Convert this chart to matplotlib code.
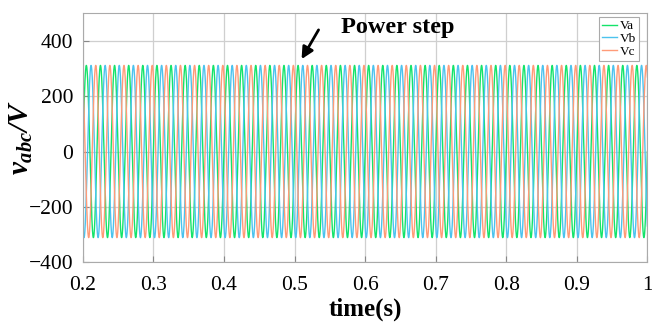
import numpy as np
import matplotlib
matplotlib.use("Agg")
import matplotlib.pyplot as plt

# Data
amplitude = 311.0
freq = 50.0
phase_deg = [0.0, -120.0, 120.0]
series_names = ["Va", "Vb", "Vc"]
series_colors = ["#14e36a", "#4cc3ee", "#ff9b78"]
t_start, t_end = 0.2, 1.0
xticks = [0.2, 0.3, 0.4, 0.5, 0.6, 0.7, 0.8, 0.9, 1.0]
xticklabels = ["0.2", "0.3", "0.4", "0.5", "0.6", "0.7", "0.8", "0.9", "1"]
yticks = [-400, -200, 0, 200, 400]

plt.rcParams['font.family'] = ['Liberation Serif', 'DejaVu Serif']
plt.rcParams['mathtext.fontset'] = 'custom'
plt.rcParams['mathtext.rm'] = 'Liberation Serif:italic:bold'
plt.rcParams['mathtext.it'] = 'Liberation Serif:italic:bold'
plt.rcParams['mathtext.bf'] = 'Liberation Serif:italic:bold'

fig = plt.figure(figsize=(6.52, 3.27), dpi=100)
ax = fig.add_axes([0.127, 0.198, 0.866, 0.762])

t = np.linspace(t_start, t_end, 20001)
for ph, name, c in zip(phase_deg, series_names, series_colors):
    v = amplitude * np.sin(2 * np.pi * freq * t + np.deg2rad(ph))
    ax.plot(t, v, color=c, lw=1.0, label=name)

ax.set_xlim(t_start, t_end)
ax.set_ylim(-400, 500)
ax.set_xticks(xticks)
ax.set_xticklabels(xticklabels)
ax.set_yticks(yticks)
ax.tick_params(labelsize=15.5, length=4, color='#888888', direction='in')
ax.tick_params(axis='x', pad=10)
ax.tick_params(axis='y', pad=7)
ax.grid(True, color='#cfcfcf', lw=0.9)
for s in ax.spines.values():
    s.set_color('#aaaaaa')

ax.set_xlabel("time(s)", fontsize=18, fontweight='bold', labelpad=2)
ax.set_ylabel(r"$v_{abc}/V$", fontsize=21)
ax.yaxis.set_label_coords(-0.085, 0.5)

ax.annotate("", xy=(0.508, 325), xytext=(0.536, 448),
            arrowprops=dict(arrowstyle='-|>,head_width=0.35,head_length=0.7',
                            color='black', lw=2))
ax.text(0.566, 447, "Power step", fontsize=17.5, fontweight='bold', va='center', ha='left')

leg = ax.legend(loc='upper right', fontsize=9.5, handlelength=1.2, handletextpad=0.2,
                borderpad=0.2, labelspacing=0.05, framealpha=1, fancybox=False,
                borderaxespad=0, edgecolor='#aaaaaa', bbox_to_anchor=(0.985, 0.983))
leg.get_frame().set_linewidth(0.8)

fig.savefig("out.png", dpi=100)
